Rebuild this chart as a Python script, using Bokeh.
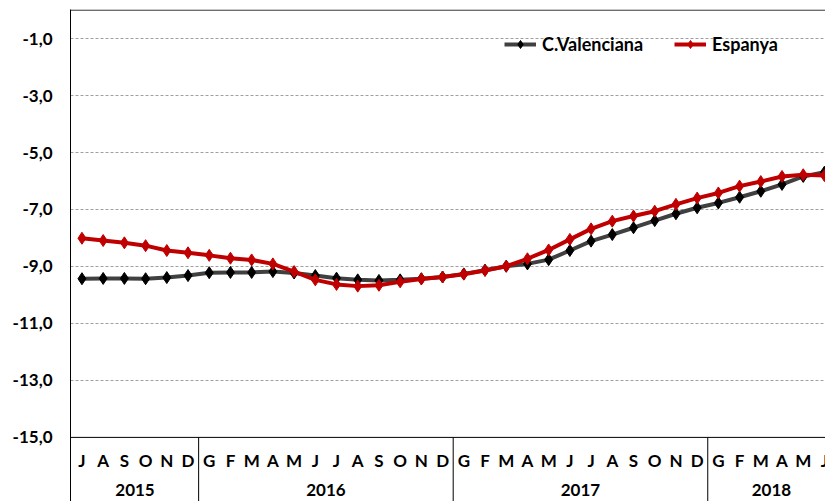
from bokeh.plotting import figure
from bokeh.models import Range1d, FixedTicker, Span, Legend, LegendItem
from bokeh.core.properties import value
from bokeh.embed import file_html
from bokeh.resources import INLINE

months = ["J", "A", "S", "O", "N", "D",
          "G", "F", "M", "A", "M", "J", "J", "A", "S", "O", "N", "D",
          "G", "F", "M", "A", "M", "J", "J", "A", "S", "O", "N", "D",
          "G", "F", "M", "A", "M", "J"]
years = ["2015", "2016", "2017", "2018"]
year_counts = [6, 12, 12, 6]

valenciana = [-9.43, -9.42, -9.42, -9.43, -9.39, -9.32,
              -9.22, -9.21, -9.21, -9.18, -9.23, -9.32, -9.41, -9.47, -9.49, -9.47, -9.43, -9.37,
              -9.26, -9.13, -8.99, -8.91, -8.76, -8.44, -8.11, -7.88, -7.64, -7.39, -7.15, -6.94,
              -6.77, -6.57, -6.36, -6.12, -5.84, -5.69]
espanya = [-8.01, -8.09, -8.17, -8.27, -8.44, -8.52,
           -8.61, -8.71, -8.77, -8.91, -9.18, -9.47, -9.63, -9.69, -9.66, -9.54, -9.44, -9.37,
           -9.27, -9.14, -8.99, -8.73, -8.42, -8.05, -7.68, -7.41, -7.23, -7.06, -6.82, -6.60,
           -6.42, -6.18, -6.02, -5.84, -5.78, -5.81]
y_ticks = [-15, -13, -11, -9, -7, -5, -3, -1]
y_tick_labels = {t: f"{t},0" for t in y_ticks}

FONT = "Lato"
xs = list(range(len(months)))

p = figure(width=825, height=501, output_backend="svg", toolbar_location=None,
           x_range=Range1d(-0.54, 35.05), y_range=Range1d(-17.25, 0.02),
           min_border_left=70, min_border_right=0, min_border_top=9, min_border_bottom=0)
p.outline_line_color = None
p.background_fill_color = "white"
p.border_fill_color = "white"

p.xaxis.visible = False
p.xgrid.visible = False
p.ygrid.ticker = FixedTicker(ticks=[t for t in y_ticks if t != -15])
p.ygrid.grid_line_color = "#a0a0a0"
p.ygrid.grid_line_dash = "3 2"
p.ygrid.grid_line_width = 1

p.yaxis.ticker = FixedTicker(ticks=y_ticks)
p.yaxis.major_label_overrides = y_tick_labels
p.yaxis.major_tick_out = 0
p.yaxis.major_tick_in = 0
p.yaxis.minor_tick_out = 0
p.yaxis.minor_tick_in = 0
p.yaxis.axis_line_color = "black"
p.yaxis.major_label_standoff = 18
p.yaxis.major_label_text_font = FONT
p.yaxis.major_label_text_font_style = "bold"
p.yaxis.major_label_text_font_size = "17px"
p.yaxis.major_label_text_color = "black"

p.add_layout(Span(location=0, dimension="width", line_color="black", line_width=1))
p.add_layout(Span(location=-15, dimension="width", line_color="black", line_width=1))

# separators between years
sep_x = []
acc = 0
for c in year_counts[:-1]:
    acc += c
    sep_x.append(acc - 0.5)
p.segment(x0=sep_x, y0=[-15] * len(sep_x), x1=sep_x, y1=[-17.3] * len(sep_x),
          line_color="black", line_width=1)

# month labels
p.text(x=xs, y=[-15.8] * len(xs), text=months, text_font=value(FONT),
       text_font_style="bold", text_font_size="17px", text_align="center",
       text_baseline="middle", text_color="black")

# year labels
yc = []
acc = 0
for c in year_counts:
    yc.append(acc + (c - 1) / 2)
    acc += c
p.text(x=yc, y=[-16.86] * len(yc), text=years, text_font=value(FONT),
       text_font_style="bold", text_font_size="17px", text_align="center",
       text_baseline="middle", text_color="black")

l1 = p.line(xs, valenciana, line_color="#404040", line_width=4)
s1 = p.scatter(xs, valenciana, marker="diamond", size=12, fill_color="black", line_color="black")
l2 = p.line(xs, espanya, line_color="#C00000", line_width=4)
s2 = p.scatter(xs, espanya, marker="diamond", size=12, fill_color="#C00000", line_color="#C00000")

legend = Legend(items=[LegendItem(label="C.Valenciana", renderers=[l1, s1]),
                       LegendItem(label="Espanya", renderers=[l2, s2])],
                orientation="horizontal", location=(434, 446),
                padding=0, margin=0, spacing=31, label_standoff=6,
                glyph_width=32, glyph_height=20,
                border_line_color=None, background_fill_alpha=0,
                label_text_font=FONT, label_text_font_style="bold",
                label_text_font_size="18px", label_text_color="black")
p.add_layout(legend)

open("out.html", "w").write(file_html(p, INLINE))
